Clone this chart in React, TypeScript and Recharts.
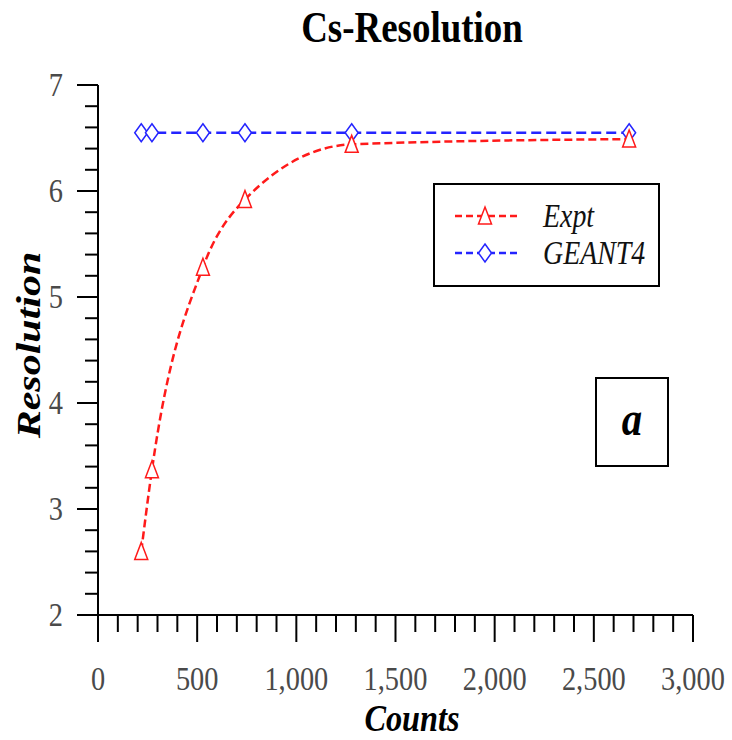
import React from "react"
import { LineChart, Line, XAxis, YAxis, Legend } from "recharts"

// counts at which both series were sampled
const counts = [218, 272, 529, 741, 1279, 2678]
const expt = [2.6, 3.37, 5.28, 5.92, 6.44, 6.49]
const geant4 = [6.55, 6.55, 6.55, 6.55, 6.55, 6.55]

const xTicks = [
  0, 100, 200, 300, 400, 500, 600, 700, 800, 900, 1000, 1100, 1200, 1300, 1400, 1500,
  1600, 1700, 1800, 1900, 2000, 2100, 2200, 2300, 2400, 2500, 2600, 2700, 2800, 2900, 3000,
]
const yTicks = [
  2, 2.2, 2.4, 2.6, 2.8, 3, 3.2, 3.4, 3.6, 3.8, 4, 4.2, 4.4, 4.6, 4.8, 5, 5.2, 5.4, 5.6, 5.8,
  6, 6.2, 6.4, 6.6, 6.8, 7,
]

const data = counts.map((c, i) => ({ counts: c, expt: expt[i], geant4: geant4[i] }))

const RED = "#ff1a1a"
const BLUE = "#2424ff"
const SERIF = "'Liberation Serif', 'Times New Roman', serif"

const isMajor = (v: number, step: number) => Math.abs(v / step - Math.round(v / step)) < 1e-6

const XTick = (props: any) => {
  const { x, y, payload } = props
  const v = payload.value
  const major = isMajor(v, 500)
  return (
    <g>
      <line x1={x} y1={y} x2={x} y2={y + (major ? 27 : 17)} stroke="#000" strokeWidth={2} />
      {major && (
        <text
          transform={`translate(${x},${y + 75}) scale(0.86,1)`}
          textAnchor="middle"
          fontSize={33}
          fontFamily={SERIF}
          fill="#4a4a4a"
        >
          {v.toLocaleString("en-US")}
        </text>
      )}
    </g>
  )
}

const YTick = (props: any) => {
  const { x, y, payload } = props
  const v = payload.value
  const major = isMajor(v, 1)
  return (
    <g>
      <line x1={x - (major ? 21 : 13)} y1={y} x2={x} y2={y} stroke="#000" strokeWidth={2} />
      {major && (
        <text
          transform={`translate(${x - 35},${y + 11}) scale(0.86,1)`}
          textAnchor="end"
          fontSize={33}
          fontFamily={SERIF}
          fill="#4a4a4a"
        >
          {Math.round(v)}
        </text>
      )}
    </g>
  )
}

const Triangle = (props: any) => {
  const { cx, cy } = props
  if (cx == null || cy == null) return null
  return (
    <polygon
      points={`${cx},${cy - 9} ${cx + 6.5},${cy + 8} ${cx - 6.5},${cy + 8}`}
      fill="#fff"
      stroke={RED}
      strokeWidth={1.5}
    />
  )
}

const Diamond = (props: any) => {
  const { cx, cy } = props
  if (cx == null || cy == null) return null
  return (
    <polygon
      points={`${cx},${cy - 9} ${cx + 6.5},${cy} ${cx},${cy + 9} ${cx - 6.5},${cy}`}
      fill="#fff"
      stroke={BLUE}
      strokeWidth={1.5}
    />
  )
}

const LegendBox = () => (
  <svg width={227} height={104} style={{ display: "block" }}>
    <rect x={1} y={1} width={225} height={102} fill="#fff" stroke="#000" strokeWidth={2} />
    <line x1={22} y1={33} x2={84} y2={33} stroke={RED} strokeWidth={2.5} strokeDasharray="7 4" />
    <Triangle cx={52} cy={33} />
    <text transform="translate(110,44) scale(0.82,1)" fontSize={34} fontStyle="italic" fontFamily={SERIF} fill="#111">
      Expt
    </text>
    <line x1={22} y1={70} x2={84} y2={70} stroke={BLUE} strokeWidth={2.5} strokeDasharray="7 4" />
    <Diamond cx={52} cy={70} />
    <text transform="translate(110,81) scale(0.82,1)" fontSize={34} fontStyle="italic" fontFamily={SERIF} fill="#111">
      GEANT4
    </text>
  </svg>
)

const CountsLabel = () => (
  <text
    transform="translate(412,731) scale(0.85,1)"
    textAnchor="middle"
    fontSize={38}
    fontWeight="bold"
    fontStyle="italic"
    fontFamily={SERIF}
    fill="#000"
  >
    Counts
  </text>
)

const ResolutionLabel = () => (
  <text
    transform="translate(40,345) rotate(-90) scale(1,0.8)"
    textAnchor="middle"
    fontSize={42}
    fontWeight="bold"
    fontStyle="italic"
    fontFamily={SERIF}
    fill="#000"
  >
    Resolution
  </text>
)

export default function App() {
  return (
    <div style={{ position: "absolute", left: 0, top: 0, width: 732, height: 740, background: "#fff" }}>
      <svg width={732} height={60} style={{ position: "absolute", left: 0, top: 0 }}>
        <text
          transform="translate(412,42) scale(0.84,1)"
          textAnchor="middle"
          fontSize={44}
          fontWeight="bold"
          fontFamily={SERIF}
          fill="#000"
        >
          Cs-Resolution
        </text>
      </svg>
      <LineChart width={732} height={740} data={data} margin={{ top: 85, right: 39, bottom: 0, left: 0 }}>
        <XAxis
          dataKey="counts"
          type="number"
          domain={[0, 3000]}
          ticks={xTicks}
          interval={0}
          height={125}
          tickLine={false}
          tickSize={0}
          tickMargin={0}
          tick={<XTick />}
          axisLine={{ stroke: "#000", strokeWidth: 2 }}
          label={{ content: <CountsLabel /> }}
        />
        <YAxis
          type="number"
          domain={[2, 7]}
          ticks={yTicks}
          interval={0}
          width={98}
          tickLine={false}
          tickSize={0}
          tickMargin={0}
          tick={<YTick />}
          axisLine={{ stroke: "#000", strokeWidth: 2 }}
          label={{ content: <ResolutionLabel /> }}
        />
        <Legend
          layout="vertical"
          align="center"
          verticalAlign="middle"
          content={<LegendBox />}
          wrapperStyle={{ position: "absolute", left: 433, top: 183, width: 227, height: 104 }}
        />
        <Line
          type="monotone"
          dataKey="geant4"
          stroke={BLUE}
          strokeWidth={2.5}
          strokeDasharray="10 5"
          dot={<Diamond />}
          isAnimationActive={false}
        />
        <Line
          type="monotone"
          dataKey="expt"
          stroke={RED}
          strokeWidth={2.5}
          strokeDasharray="8 4"
          dot={<Triangle />}
          isAnimationActive={false}
        />
      </LineChart>
      <div
        style={{
          position: "absolute",
          left: 595,
          top: 377,
          width: 74,
          height: 90,
          boxSizing: "border-box",
          border: "2px solid #000",
          display: "flex",
          alignItems: "center",
          justifyContent: "center",
          fontFamily: SERIF,
          fontWeight: "bold",
          fontStyle: "italic",
          fontSize: 48,
          lineHeight: 1,
        }}
      >
        <span style={{ display: "inline-block", transform: "scaleX(0.85)", marginTop: -6 }}>a</span>
      </div>
    </div>
  )
}
